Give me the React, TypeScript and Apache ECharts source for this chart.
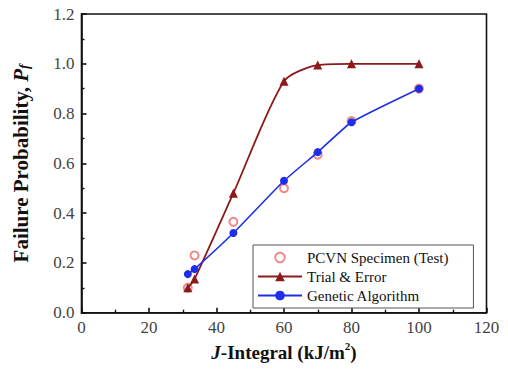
import React, { useEffect, useRef } from "react";
import * as echarts from "echarts";

const jIntegral = [31.5, 33.5, 45, 60, 70, 80, 100];
const pcvnTest = [0.1, 0.23, 0.365, 0.5, 0.635, 0.77, 0.9];
const trialError = [0.1, 0.135, 0.48, 0.93, 0.995, 1.0, 1.0];
const geneticAlg = [0.155, 0.175, 0.32, 0.53, 0.645, 0.765, 0.9];
const seriesNames = ["PCVN Specimen (Test)", "Trial & Error", "Genetic Algorithm"];

const FONT = "Liberation Serif";

function pairs(xs: number[], ys: number[]) {
  return xs.map((x, i) => [x, ys[i]]);
}

export default function App() {
  const ref = useRef<HTMLDivElement>(null);
  useEffect(() => {
    const chart = echarts.init(ref.current!, null, { renderer: "svg" });
    chart.setOption({
      animation: false,
      backgroundColor: "#ffffff",
      textStyle: { fontFamily: FONT },
      grid: {
        left: 81.5,
        right: 21.5,
        top: 14,
        bottom: 61.3,
        show: true,
        borderColor: "#111",
        borderWidth: 1.6,
      },
      legend: {
        orient: "vertical",
        left: 253,
        top: 245,
        itemWidth: 44,
        itemHeight: 12,
        itemGap: 4,
        padding: [5, 25, 5, 4],
        borderColor: "#555",
        borderWidth: 1,
        backgroundColor: "#fff",
        textStyle: { fontFamily: FONT, fontSize: 15, color: "#111" },
        data: seriesNames,
      },
      xAxis: {
        type: "value",
        min: 0,
        max: 120,
        interval: 20,
        name: "{i|J}{b|-Integral (kJ/m}{sup|2}{b|)}",
        nameLocation: "middle",
        nameGap: 28,
        nameTextStyle: {
          rich: {
            i: { fontFamily: FONT, fontSize: 19, fontWeight: "bold", fontStyle: "italic", color: "#111" },
            b: { fontFamily: FONT, fontSize: 19, fontWeight: "bold", color: "#111" },
            sup: { fontFamily: FONT, fontSize: 11, fontWeight: "bold", color: "#111", verticalAlign: "top", lineHeight: 24 },
          },
        },
        axisLine: { show: true, lineStyle: { color: "#111", width: 1.6 } },
        axisTick: { show: true, inside: true, length: 5, lineStyle: { color: "#111", width: 1.6 } },
        minorTick: { show: true, splitNumber: 2, length: 3, lineStyle: { color: "#111", width: 1.4 } },
        splitLine: { show: false },
        axisLabel: { fontFamily: FONT, fontSize: 17, color: "#444", margin: 6 },
      },
      yAxis: {
        type: "value",
        min: 0,
        max: 1.2,
        interval: 0.2,
        name: "{b|Failure Probability, }{i|P}{s|f}",
        nameLocation: "middle",
        nameGap: 50,
        nameRotate: 90,
        nameTextStyle: {
          rich: {
            b: { fontFamily: FONT, fontSize: 21, fontWeight: "bold", color: "#111" },
            i: { fontFamily: FONT, fontSize: 21, fontWeight: "bold", fontStyle: "italic", color: "#111" },
            s: { fontFamily: FONT, fontSize: 14, fontWeight: "bold", fontStyle: "italic", color: "#111", verticalAlign: "bottom", lineHeight: 18 },
          },
        },
        axisLine: { show: true, lineStyle: { color: "#111", width: 1.6 } },
        axisTick: { show: true, inside: true, length: 5, lineStyle: { color: "#111", width: 1.6 } },
        minorTick: { show: true, splitNumber: 2, length: 3, lineStyle: { color: "#111", width: 1.4 } },
        splitLine: { show: false },
        axisLabel: {
          fontFamily: FONT,
          fontSize: 17,
          color: "#444",
          margin: 7,
          formatter: (v: number) => v.toFixed(1),
        },
      },
      series: [
        {
          name: seriesNames[0],
          type: "line",
          data: pairs(jIntegral, pcvnTest),
          symbol: "emptyCircle",
          symbolSize: 8,
          showSymbol: true,
          lineStyle: { opacity: 0, width: 0 },
          itemStyle: { color: "#f08a8a", borderColor: "#f08a8a", borderWidth: 1.2 },
          z: 1,
        },
        {
          name: seriesNames[1],
          type: "line",
          data: pairs(jIntegral, trialError),
          smooth: 0.25,
          symbol: "triangle",
          symbolSize: 9,
          lineStyle: { color: "#8b1a1a", width: 1.8 },
          itemStyle: { color: "#8b1a1a" },
          z: 3,
        },
        {
          name: seriesNames[2],
          type: "line",
          data: pairs(jIntegral, geneticAlg),
          smooth: 0.15,
          symbol: "circle",
          symbolSize: 8,
          lineStyle: { color: "#1e2ee8", width: 1.6 },
          itemStyle: { color: "#1e2ee8" },
          z: 4,
        },
      ],
    });
    return () => chart.dispose();
  }, []);
  return (
    <div
      ref={ref}
      style={{ position: "fixed", left: 0, top: 0, width: 508, height: 374, background: "#fff" }}
    />
  );
}
